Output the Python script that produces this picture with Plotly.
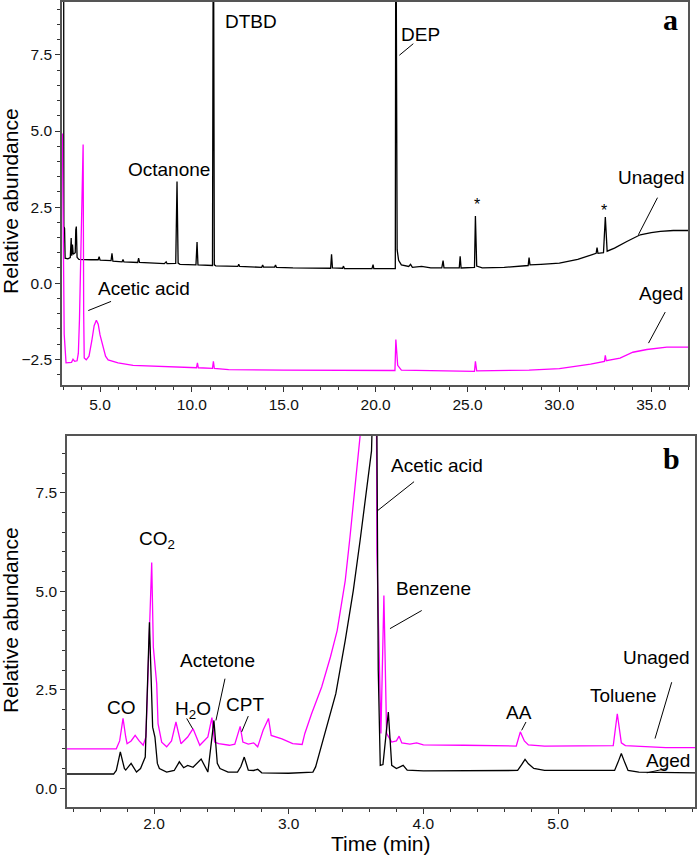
import plotly.graph_objects as go

# ---------------- Panel a (top): time (min) vs relative abundance ----------------
a_unaged_t = [2.93, 3.02, 3.03, 3.07, 3.10, 3.25, 3.38, 3.43, 3.46, 3.50, 3.54, 3.65, 3.68, 3.71, 3.75,
              3.85, 4.5, 4.9, 4.95, 5.0, 5.6, 5.65, 5.7, 6.2, 6.25, 6.3, 7.05, 7.1, 7.15, 8.5, 8.6, 8.65,
              9.12, 9.19, 9.25, 9.35, 10.22, 10.28, 10.33, 11.12, 11.17, 11.22, 11.3, 12.5, 12.55, 12.6,
              13.8, 13.85, 13.9, 14.5, 14.55, 14.6, 15.5, 17.55, 17.6, 17.65, 18.2, 18.25, 18.3, 19.8,
              19.86, 19.9, 21.07, 21.1, 21.17, 21.25, 21.4, 21.8, 21.9, 22.0, 22.5, 23.0, 23.6, 23.67,
              23.72, 24.55, 24.6, 24.65, 25.38, 25.43, 25.5, 25.8, 27.0, 28.3, 28.35, 28.4, 29.0, 30.0,
              31.0, 31.7, 32.0, 32.05, 32.1, 32.4, 32.5, 32.6, 33.0, 33.67, 34.4, 35.0, 35.5, 36.2, 37.0]
a_unaged_y = [12, 12, 1.86, 1.8, 0.82, 0.8, 0.84, 1.48, 0.9, 1.27, 0.95, 1.0, 1.75, 1.86, 0.85,
              0.78, 0.77, 0.77, 0.87, 0.76, 0.74, 0.98, 0.72, 0.7, 0.78, 0.7, 0.68, 0.82, 0.68, 0.64, 0.7, 0.64,
              0.65, 3.34, 0.66, 0.62, 0.6, 1.35, 0.6, 0.58, 14, 0.6, 0.57, 0.55, 0.62, 0.55,
              0.52, 0.6, 0.53, 0.53, 0.6, 0.52, 0.5, 0.49, 0.95, 0.5, 0.49, 0.56, 0.48, 0.48,
              0.61, 0.48, 0.48, 14, 1.1, 0.75, 0.6, 0.55, 0.62, 0.52, 0.55, 0.5, 0.5, 0.74,
              0.5, 0.5, 0.88, 0.5, 0.52, 2.21, 0.56, 0.5, 0.52, 0.58, 0.84, 0.6, 0.62, 0.66,
              0.78, 0.91, 0.98, 1.17, 0.98, 1.0, 2.17, 1.05, 1.15, 1.37, 1.59, 1.66, 1.70, 1.73, 1.73]

a_aged_t = [2.95, 3.0, 3.05, 3.15, 3.45, 3.53, 3.62, 3.75, 3.82, 3.88, 3.95, 4.02, 4.08, 4.11, 4.14,
            4.25, 4.4, 4.55, 4.68, 4.8, 4.9, 5.0, 5.16, 5.3, 5.44, 5.98, 6.8, 9.0, 10.25, 10.3, 10.35,
            11.12, 11.17, 11.22, 12.0, 15.0, 18.6, 21.05, 21.1, 21.2, 21.4, 25.38, 25.43, 25.5, 28.35,
            30.0, 31.7, 32.45, 32.5, 32.55, 33.3, 34.0, 34.76, 35.85, 37.0]
a_aged_y = [4.92, 1.6, -1.68, -2.62, -2.6, -2.5, -2.57, -2.55, -2.3, -1.2, 0.5, 2.4, 4.56, -1.0, -2.46,
            -2.52, -2.4, -1.9, -1.4, -1.22, -1.35, -1.7, -2.13, -2.4, -2.52, -2.62, -2.7, -2.76, -2.78, -2.62, -2.78,
            -2.8, -2.57, -2.8, -2.84, -2.86, -2.87, -2.87, -1.85, -2.7, -2.86, -2.9, -2.57, -2.88, -2.86,
            -2.81, -2.66, -2.57, -2.37, -2.55, -2.46, -2.27, -2.18, -2.1, -2.1]

# ---------------- Panel b (bottom) ----------------
b_unaged_t = [1.354, 1.72, 1.745, 1.77, 1.79, 1.80, 1.83, 1.86, 1.89, 1.92, 1.94, 1.96, 1.983, 1.995,
              2.02, 2.03, 2.057, 2.094, 2.13, 2.163, 2.2, 2.25, 2.29, 2.34, 2.40, 2.43, 2.45, 2.48, 2.56,
              2.60, 2.62, 2.64, 2.66, 2.70, 2.74, 2.77, 2.81, 2.85, 2.87, 2.95, 3.03, 3.10, 3.12, 3.17,
              3.245, 3.31, 3.36, 3.42, 3.455, 3.49, 3.53, 3.57, 3.62, 3.65, 3.655, 3.685, 3.707, 3.727,
              3.765, 3.80, 3.82, 3.84, 3.9, 3.95, 4.0, 4.3, 4.69, 4.72, 4.75, 4.78, 4.9, 5.41, 5.44,
              5.47, 5.5, 5.8, 6.02]
b_unaged_y = [1.0, 1.0, 1.2, 1.77, 1.3, 1.13, 1.2, 1.34, 1.2, 1.09, 1.3, 3.5, 5.73, 3.58,
              2.65, 1.64, 1.17, 1.05, 1.2, 1.68, 1.13, 1.3, 1.51, 1.09, 1.3, 1.79, 1.17, 1.13, 1.09,
              1.12, 1.35, 1.57, 1.17, 1.12, 1.15, 1.05, 1.47, 1.77, 1.34, 1.25, 1.13, 1.11, 1.39, 1.89,
              2.57, 3.33, 4.0, 5.27, 6.37, 7.55, 8.82, 10.5, 12, 12, 6, 1.39, 4.89, 1.39,
              1.17, 1.2, 1.32, 1.15, 1.12, 1.15, 1.1, 1.09, 1.07, 1.43, 1.2, 1.1, 1.07, 1.08, 1.89,
              1.15, 1.08, 1.03, 1.03]

b_aged_t = [1.354, 1.70, 1.72, 1.75, 1.78, 1.79, 1.83, 1.87, 1.90, 1.935, 1.966, 1.978, 1.99, 2.007,
            2.025, 2.04, 2.094, 2.15, 2.188, 2.22, 2.25, 2.29, 2.35, 2.40, 2.445, 2.47, 2.49, 2.55,
            2.62, 2.645, 2.67, 2.70, 2.74, 2.77, 2.80, 3.0, 3.18, 3.20, 3.27, 3.35, 3.42, 3.48, 3.53,
            3.58, 3.615, 3.63, 3.645, 3.65, 3.665, 3.68, 3.70, 3.72, 3.74, 3.765, 3.80, 3.85, 3.88,
            4.0, 4.3, 4.7, 4.73, 4.755, 4.78, 4.82, 4.9, 5.2, 5.42, 5.45, 5.47, 5.49, 5.52, 5.6, 6.02]
b_aged_y = [0.36, 0.36, 0.45, 0.92, 0.5, 0.46, 0.63, 0.41, 0.5, 0.79, 4.21, 3.0, 1.55, 1.3,
            0.63, 0.5, 0.41, 0.45, 0.67, 0.52, 0.58, 0.53, 0.74, 0.41, 1.72, 0.63, 0.5, 0.41,
            0.41, 0.55, 0.79, 0.46, 0.45, 0.48, 0.39, 0.38, 0.41, 0.54, 1.39, 2.4, 3.75, 5.02, 6.28,
            7.55, 8.56, 10.5, 12, 12, 3.0, 0.58, 0.6, 1.3, 1.93, 0.58, 0.5, 0.58, 0.46,
            0.44, 0.44, 0.45, 0.6, 0.73, 0.62, 0.5, 0.45, 0.45, 0.45, 0.7, 0.88, 0.7, 0.45, 0.41, 0.39]

# tick values / labels
a_xticks = [5.0, 10.0, 15.0, 20.0, 25.0, 30.0, 35.0]
a_yticks = [-2.5, 0.0, 2.5, 5.0, 7.5]
b_xticks = [2.0, 3.0, 4.0, 5.0]
b_yticks = [0.0, 2.5, 5.0, 7.5]

W, H = 698, 856
BLACK = "#000000"
MAGENTA = "#ff00ff"
FRAME = "#555555"
FONT = "Liberation Sans, Arial, sans-serif"

fig = go.Figure()
fig.add_trace(go.Scatter(x=a_unaged_t, y=a_unaged_y, mode="lines", line=dict(color=BLACK, width=1.3),
                         xaxis="x", yaxis="y", showlegend=False))
fig.add_trace(go.Scatter(x=a_aged_t, y=a_aged_y, mode="lines", line=dict(color=MAGENTA, width=1.3),
                         xaxis="x", yaxis="y", showlegend=False))
fig.add_trace(go.Scatter(x=b_unaged_t, y=b_unaged_y, mode="lines", line=dict(color=MAGENTA, width=1.3),
                         xaxis="x2", yaxis="y2", showlegend=False))
fig.add_trace(go.Scatter(x=b_aged_t, y=b_aged_y, mode="lines", line=dict(color=BLACK, width=1.3),
                         xaxis="x2", yaxis="y2", showlegend=False))

def ax(**kw):
    base = dict(showline=True, linecolor=FRAME, linewidth=1.5, mirror=True, showgrid=False,
                zeroline=False, ticks="outside", ticklen=5, tickwidth=1, tickcolor="#333333",
                tickfont=dict(family=FONT, size=15.5, color="#111111"), tickformat=".1f")
    base.update(kw)
    return base

fig.update_layout(
    width=W, height=H, margin=dict(l=0, r=0, t=0, b=0),
    paper_bgcolor="white", plot_bgcolor="white",
    xaxis=ax(domain=[62 / W, 688 / W], range=[2.93, 37.0], anchor="y", tickvals=a_xticks,
             minor=dict(dtick=1, tick0=0, ticklen=3, ticks="outside", tickcolor="#333333")),
    yaxis=ax(domain=[1 - 384 / H, 1.0], range=[-3.35, 9.24], anchor="x", tickvals=a_yticks,
             minor=dict(dtick=0.5, tick0=0, ticklen=3, ticks="outside", tickcolor="#333333")),
    xaxis2=ax(domain=[67 / W, 695 / W], range=[1.354, 6.017], anchor="y2", tickvals=b_xticks,
              ticklabelstandoff=-3,
              minor=dict(dtick=0.2, tick0=0, ticklen=3, ticks="outside", tickcolor="#333333")),
    yaxis2=ax(domain=[1 - 807 / H, 1 - 435 / H], range=[-0.48, 8.94], anchor="x2", tickvals=b_yticks,
              minor=dict(dtick=0.5, tick0=0, ticklen=3, ticks="outside", tickcolor="#333333")),
)

LBL = dict(family=FONT, size=19, color="#000000")
annotations = []

def txt(x, y, s, xref="x", yref="y", font=LBL, **kw):
    d = dict(x=x, y=y, xref=xref, yref=yref, text=s, showarrow=False, font=font,
             xanchor="center", yanchor="middle")
    d.update(kw)
    annotations.append(d)

shapes = []

def leader(x0, y0, x1, y1, xref="x", yref="y"):
    shapes.append(dict(type="line", x0=x0, y0=y0, x1=x1, y1=y1, xref=xref, yref=yref,
                       line=dict(color="#000000", width=1)))

# Panel a labels
txt(13.19, 8.61, "DTBD")
txt(22.45, 8.16, "DEP")
leader(22.05, 7.87, 21.29, 7.49)
txt(8.73, 3.75, "Octanone")
txt(7.37, -0.16, "Acetic acid")
leader(5.6, -0.6, 4.36, -0.9)
txt(25.5, 2.6, "*", font=dict(family=FONT, size=16, color="#000"))
txt(32.44, 2.4, "*", font=dict(family=FONT, size=16, color="#000"))
txt(35.0, 3.47, "Unaged")
leader(35.34, 2.81, 34.3, 1.59)
txt(35.51, -0.35, "Aged")
leader(35.76, -0.95, 34.85, -1.97)
txt(36.03, 8.68, "<b>a</b>", font=dict(family="Liberation Serif, Times New Roman, serif", size=30, color="#000"))

# Panel b labels
txt(5.843, 8.36, "<b>b</b>", xref="x2", yref="y2",
    font=dict(family="Liberation Serif, Times New Roman, serif", size=30, color="#000"))
txt(4.098, 8.18, "Acetic acid", "x2", "y2")
leader(3.931, 7.78, 3.658, 7.04, "x2", "y2")
txt(4.072, 5.08, "Benzene", "x2", "y2")
leader(3.988, 4.51, 3.752, 4.05, "x2", "y2")
txt(5.733, 3.32, "Unaged", "x2", "y2")
leader(5.844, 2.69, 5.72, 1.26, "x2", "y2")
txt(5.485, 2.36, "Toluene", "x2", "y2")
txt(4.71, 1.91, "AA", "x2", "y2")
leader(4.762, 1.68, 4.73, 1.47, "x2", "y2")
txt(5.819, 0.70, "Aged", "x2", "y2")
leader(5.807, 0.5, 5.659, 0.39, "x2", "y2")
txt(1.755, 2.04, "CO", "x2", "y2")
txt(2.022, 6.30, "CO<sub>2</sub>", "x2", "y2")
txt(2.286, 1.99, "H<sub>2</sub>O", "x2", "y2")
leader(2.243, 1.77, 2.287, 1.51, "x2", "y2")
txt(2.475, 3.23, "Actetone", "x2", "y2")
leader(2.527, 2.78, 2.46, 1.72, "x2", "y2")
txt(2.678, 2.12, "CPT", "x2", "y2")
leader(2.70, 1.83, 2.651, 1.43, "x2", "y2")

# Axis titles
TITLE = dict(family=FONT, size=21, color="#000000")
txt(10.5 / W, 1 - 200 / H, "Relative abundance", "paper", "paper", font=TITLE, textangle=-90)
txt(10.5 / W, 1 - 620 / H, "Relative abundance", "paper", "paper", font=TITLE, textangle=-90)
txt(381 / W, 1 - 843 / H, "Time (min)", "paper", "paper", font=TITLE)

fig.update_layout(annotations=annotations, shapes=shapes)
fig.write_html("out.html", config={"displayModeBar": False},
               post_script="document.body.style.margin='0';document.body.style.overflow='hidden';")
